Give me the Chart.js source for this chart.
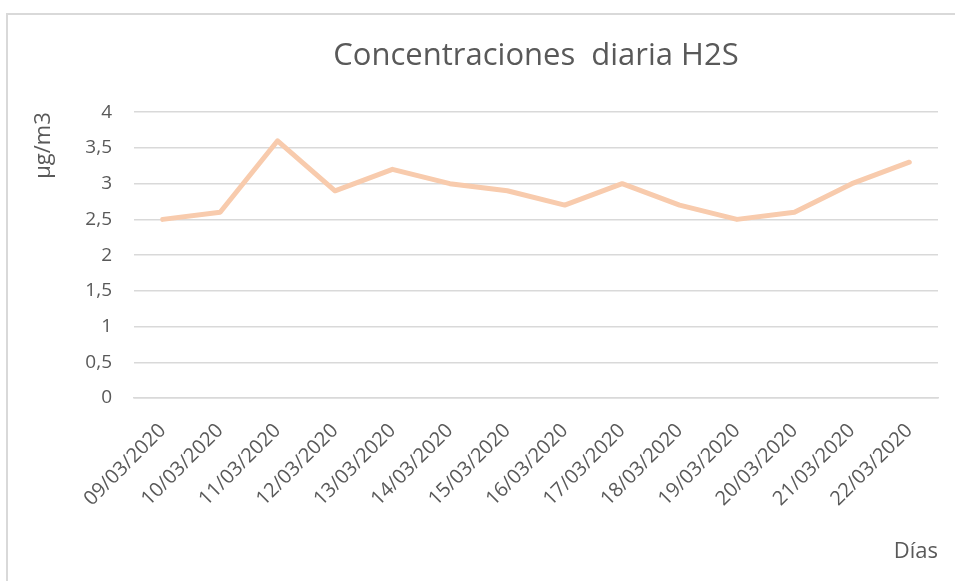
<!DOCTYPE html>
<html>
<head>
<meta charset="utf-8">
<script src="https://cdn.jsdelivr.net/npm/chart.js@4"></script>
<style>
  html, body { margin: 0; padding: 0; background: #fff; }
  #wrap { position: relative; width: 955px; height: 581px; overflow: hidden; }
  #frame {
    position: absolute; left: 6px; top: 13px; width: 1000px; height: 1000px;
    border-left: 2px solid #d9d9d9; border-top: 2px solid #d9d9d9;
    pointer-events: none;
  }
</style>
</head>
<body>
<div id="wrap">
  <canvas id="chartH2S" width="955" height="581"></canvas>
  <div id="frame"></div>
</div>
<script>
// datos
const dias = ['09/03/2020', '10/03/2020', '11/03/2020', '12/03/2020', '13/03/2020',
              '14/03/2020', '15/03/2020', '16/03/2020', '17/03/2020', '18/03/2020',
              '19/03/2020', '20/03/2020', '21/03/2020', '22/03/2020'];
const concentraciones = [2.5, 2.6, 3.6, 2.9, 3.2, 3.0, 2.9, 2.7, 3.0, 2.7, 2.5, 2.6, 3.0, 3.3];
const yMin = 0;
const yMax = 4;
const yStep = 0.5;

const gris = '#595959';
const fuente = 'Open Sans';

new Chart(document.getElementById('chartH2S'), {
    type: 'line',
    data: {
        labels: dias,
        datasets: [{
            label: 'H2S',
            data: concentraciones,
            borderColor: '#f8cbad',
            borderWidth: 5,
            borderJoinStyle: 'round',
            borderCapStyle: 'round',
            pointRadius: 0,
            tension: 0,
            fill: false
        }]
    },
    options: {
        responsive: false,
        animation: false,
        layout: { padding: { left: 0, right: 17, top: 0, bottom: 0 } },
        plugins: {
            legend: { display: false },
            tooltip: { enabled: false },
            title: {
                display: true,
                fullSize: false, // centrado sobre el área del gráfico
                text: 'Concentraciones  diaria H2S',
                color: gris,
                font: { family: fuente, size: 31, weight: 'normal' },
                padding: { top: 38, bottom: 37 }
            }
        },
        scales: {
            x: {
                offset: true,
                grid: { display: false, drawTicks: false },
                border: { display: true, color: '#d9d9d9', width: 1.5 },
                ticks: {
                    color: gris,
                    font: { family: fuente, size: 20 },
                    minRotation: 45,
                    maxRotation: 45,
                    padding: 21,
                    autoSkip: false
                },
                title: {
                    display: true,
                    text: 'Días',
                    align: 'end',
                    color: gris,
                    font: { family: fuente, size: 22 },
                    padding: { top: 0, bottom: 16 }
                },
                afterFit: (scale) => { scale.height = 183; }
            },
            y: {
                min: yMin,
                max: yMax,
                grid: { color: '#d9d9d9', lineWidth: 1.5, drawTicks: false },
                border: { display: false },
                ticks: {
                    stepSize: yStep,
                    color: gris,
                    font: { family: fuente, size: 19 },
                    padding: 22,
                    callback: (v) => String(v).replace('.', ',')
                },
                title: {
                    display: true,
                    text: 'µg/m3',
                    align: 'end',
                    color: gris,
                    font: { family: fuente, size: 22 },
                    padding: { top: 31, bottom: 0 }
                },
                afterFit: (scale) => { scale.width = 134; }
            }
        }
    }
});
</script>
</body>
</html>
